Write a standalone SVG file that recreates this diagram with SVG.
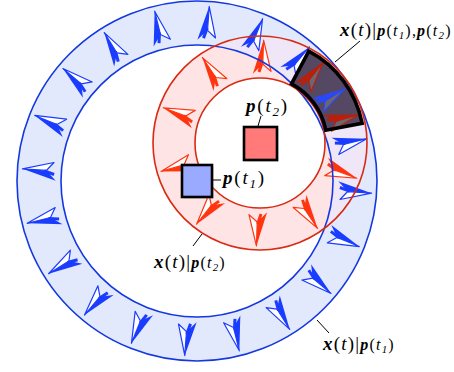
<svg xmlns="http://www.w3.org/2000/svg" xmlns:xlink="http://www.w3.org/1999/xlink" width="454" height="372" viewBox="0 0 454 372">
<style>
.lbl{font-family:"Liberation Serif","Times New Roman",serif;font-size:19px;fill:#000;letter-spacing:1.2px}
.bi{font-weight:bold;font-style:italic}
.it{font-style:italic}
.lead{stroke:#000;stroke-width:1;fill:none}
.bring{fill:none;stroke:#1438e0;stroke-width:1.6}
.rring{fill:none;stroke:#d92a12;stroke-width:1.6}
.sq{stroke:#000;stroke-width:2.6}
</style>
<defs>
  <g id="arr">
    <path d="M17,0 L-17,-9.5 L-7,0 Z" fill="currentColor"/>
    <path d="M17,0 L-14,8.5 L-7,0 Z" fill="#fff" stroke="currentColor" stroke-width="1.2" stroke-linejoin="round"/>
    <path d="M-5,-0.5 L-15,-3.5" stroke="currentColor" stroke-width="3"/>
  </g>
  <g id="arrD">
    <path d="M17,0 L-17,-9.5 L-7,0 Z" fill="currentColor"/>
    <path d="M17,0 L-14,8.5 L-7,0 Z" fill="#6d6670" stroke="currentColor" stroke-width="1.2" stroke-linejoin="round"/>
    <path d="M-5,-0.5 L-15,-3.5" stroke="currentColor" stroke-width="3"/>
  </g>
  <clipPath id="blueAnn">
    <path clip-rule="evenodd" d="M17,181 a180,180 0 1,0 360,0 a180,180 0 1,0 -360,0 Z M61,181 a136,136 0 1,0 272,0 a136,136 0 1,0 -272,0 Z"/>
  </clipPath>
  <clipPath id="sec">
    <path d="M308.8,51.2 A104,104 0 0 1 362.1,123.2 L325.8,130.2 A67,67 0 0 0 291.5,83.8 Z"/>
  </clipPath>
</defs>

<g id="annulus-p1">
  <path fill="#e2e9fd" fill-rule="evenodd" d="M17,181 a180,180 0 1,0 360,0 a180,180 0 1,0 -360,0 Z M61,181 a136,136 0 1,0 272,0 a136,136 0 1,0 -272,0 Z"/>
</g>
<g id="annulus-p2">
  <path fill="#fee4e4" fill-rule="evenodd" d="M153,143 a107,107 0 1,0 214,0 a107,107 0 1,0 -214,0 Z M195,143 a65,65 0 1,0 130,0 a65,65 0 1,0 -130,0 Z"/>
  <path fill="#efe6f8" fill-rule="evenodd" clip-path="url(#blueAnn)" d="M153,143 a107,107 0 1,0 214,0 a107,107 0 1,0 -214,0 Z M195,143 a65,65 0 1,0 130,0 a65,65 0 1,0 -130,0 Z"/>
</g>

<g id="arrows-blue" color="#1a3cff">
  <g transform="translate(197 181)">
  <use xlink:href="#arr" href="#arr" transform="rotate(-86) translate(158 0)"/>
  <use xlink:href="#arr" href="#arr" transform="rotate(-68) translate(158 0)"/>
  <use xlink:href="#arr" href="#arr" transform="rotate(-50) translate(158 0)"/>
  <use xlink:href="#arr" href="#arr" transform="rotate(-32) translate(158 0)"/>
  <use xlink:href="#arr" href="#arr" transform="rotate(-14) translate(158 0)"/>
  <use xlink:href="#arr" href="#arr" transform="rotate(4) translate(158 0)"/>
  <use xlink:href="#arr" href="#arr" transform="rotate(22) translate(158 0)"/>
  <use xlink:href="#arr" href="#arr" transform="rotate(40) translate(158 0)"/>
  <use xlink:href="#arr" href="#arr" transform="rotate(58) translate(158 0)"/>
  <use xlink:href="#arr" href="#arr" transform="rotate(76) translate(158 0)"/>
  <use xlink:href="#arr" href="#arr" transform="rotate(94) translate(158 0)"/>
  <use xlink:href="#arr" href="#arr" transform="rotate(112) translate(158 0)"/>
  <use xlink:href="#arr" href="#arr" transform="rotate(130) translate(158 0)"/>
  <use xlink:href="#arr" href="#arr" transform="rotate(148) translate(158 0)"/>
  <use xlink:href="#arr" href="#arr" transform="rotate(166) translate(158 0)"/>
  <use xlink:href="#arr" href="#arr" transform="rotate(184) translate(158 0)"/>
  <use xlink:href="#arr" href="#arr" transform="rotate(202) translate(158 0)"/>
  <use xlink:href="#arr" href="#arr" transform="rotate(220) translate(158 0)"/>
  <use xlink:href="#arr" href="#arr" transform="rotate(238) translate(158 0)"/>
  <use xlink:href="#arr" href="#arr" transform="rotate(256) translate(158 0)"/>
  </g>
</g>

<g id="arrows-red" color="#ff3510">
  <g transform="translate(260 143)">
  <use xlink:href="#arr" href="#arr" transform="rotate(-88) translate(86 0)"/>
  <use xlink:href="#arr" href="#arr" transform="rotate(-124) translate(86 0)"/>
  <use xlink:href="#arr" href="#arr" transform="rotate(-160) translate(86 0)"/>
  <use xlink:href="#arr" href="#arr" transform="rotate(164) translate(86 0)"/>
  <use xlink:href="#arr" href="#arr" transform="rotate(128) translate(86 0)"/>
  <use xlink:href="#arr" href="#arr" transform="rotate(92) translate(86 0)"/>
  <use xlink:href="#arr" href="#arr" transform="rotate(56) translate(86 0)"/>
  <use xlink:href="#arr" href="#arr" transform="rotate(20) translate(86 0)"/>
  <use xlink:href="#arr" href="#arr" transform="rotate(-16) translate(86 0)"/>
  <use xlink:href="#arr" href="#arr" transform="rotate(-52) translate(86 0)"/>
  </g>
</g>

<g id="rings">
  <circle class="bring" cx="197" cy="181" r="180"/>
  <circle class="bring" cx="197" cy="181" r="136"/>
  <circle class="rring" cx="260" cy="143" r="107"/>
  <circle class="rring" cx="260" cy="143" r="65"/>
</g>

<g id="intersection">
  <path fill="#544863" d="M308.8,51.2 A104,104 0 0 1 362.1,123.2 L325.8,130.2 A67,67 0 0 0 291.5,83.8 Z"/>
  <g clip-path="url(#sec)">
    <g transform="translate(260 143)">
    <use xlink:href="#arrD" href="#arrD" color="#b8200c" transform="rotate(-16) translate(86 0)"/>
    <use xlink:href="#arrD" href="#arrD" color="#b8200c" transform="rotate(-52) translate(86 0)"/>
    </g>
    <g transform="translate(197 181)">
    <use xlink:href="#arrD" href="#arrD" color="#2a48f5" transform="rotate(-32) translate(158 0)"/>
    <use xlink:href="#arrD" href="#arrD" color="#2a48f5" transform="rotate(-50) translate(158 0)"/>
    <use xlink:href="#arrD" href="#arrD" color="#2a48f5" transform="rotate(-14) translate(158 0)"/>
    </g>
  </g>
  <path fill="none" stroke="#000" stroke-width="3.6" stroke-linejoin="miter" d="M308.8,51.2 A104,104 0 0 1 362.1,123.2 L325.8,130.2 A67,67 0 0 0 291.5,83.8 Z"/>
</g>

<g id="p-t2">
  <rect x="245.5" y="128.5" width="33" height="33" fill="#bbb" opacity="0.6"/>
  <rect class="sq" x="244" y="127" width="33" height="33" fill="#ff7a78"/>
  <line class="lead" x1="258" y1="126" x2="261" y2="116"/>
  <text class="lbl" x="246" y="112" font-size="20" style="letter-spacing:1.8px"><tspan class="bi">p</tspan>(<tspan class="it">t</tspan><tspan class="it" font-size="13" dy="4">2</tspan><tspan dy="-4">)</tspan></text>
</g>

<g id="p-t1">
  <rect x="183.5" y="166.5" width="30" height="32" fill="#bbb" opacity="0.6"/>
  <rect class="sq" x="182" y="165" width="30" height="32" fill="#9aabff"/>
  <line class="lead" x1="213" y1="180" x2="221" y2="180"/>
  <text class="lbl" x="223" y="184" font-size="20" style="letter-spacing:1.8px"><tspan class="bi">p</tspan>(<tspan class="it">t</tspan><tspan class="it" font-size="13" dy="4">1</tspan><tspan dy="-4">)</tspan></text>
</g>

<g id="label-p2">
  <line class="lead" x1="193" y1="246" x2="202" y2="234"/>
  <text class="lbl" x="154" y="268"><tspan class="bi">x</tspan>(<tspan class="it">t</tspan>)|<tspan font-size="16"><tspan class="bi">p</tspan>(<tspan class="it">t</tspan><tspan class="it" font-size="11" dy="3">2</tspan><tspan dy="-3">)</tspan></tspan></text>
</g>

<g id="label-p1">
  <line class="lead" x1="317" y1="320" x2="329" y2="333"/>
  <text class="lbl" x="323" y="350"><tspan class="bi">x</tspan>(<tspan class="it">t</tspan>)|<tspan font-size="16"><tspan class="bi">p</tspan>(<tspan class="it">t</tspan><tspan class="it" font-size="11" dy="3">1</tspan><tspan dy="-3">)</tspan></tspan></text>
</g>

<g id="label-p1p2">
  <line class="lead" x1="335" y1="62" x2="360" y2="41"/>
  <text class="lbl" x="340" y="36"><tspan class="bi">x</tspan>(<tspan class="it">t</tspan>)|<tspan font-size="16"><tspan class="bi">p</tspan>(<tspan class="it">t</tspan><tspan class="it" font-size="11" dy="3">1</tspan><tspan dy="-3">)</tspan>,<tspan class="bi">p</tspan>(<tspan class="it">t</tspan><tspan class="it" font-size="11" dy="3">2</tspan><tspan dy="-3">)</tspan></tspan></text>
</g>
</svg>
